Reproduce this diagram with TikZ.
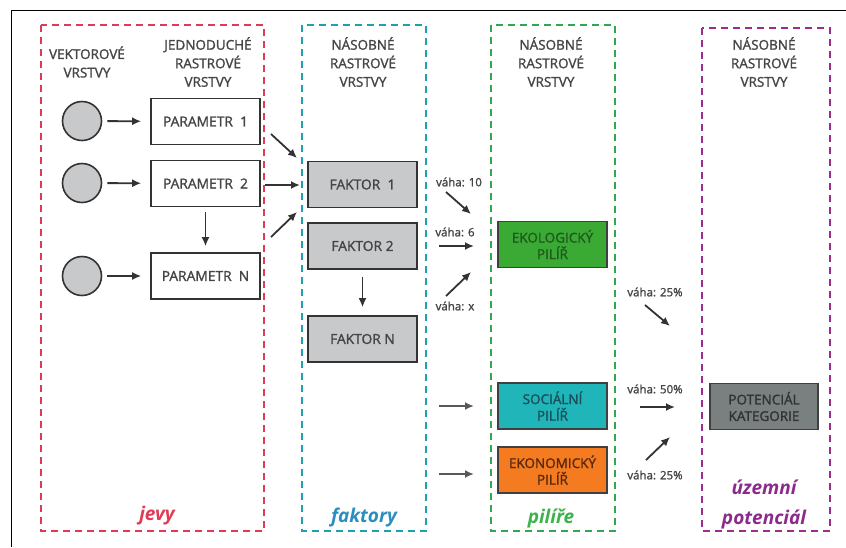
\documentclass[tikz,border=0pt]{standalone}
\usepackage{fontspec}
\setmainfont{Open Sans}
\newfontfamily\semib[FakeBold=1.5]{Open Sans}
\usetikzlibrary{arrows.meta}
\definecolor{cred}{HTML}{E23A55}
\definecolor{cteal}{HTML}{1AA3AC}
\definecolor{cgreen}{HTML}{2FA84F}
\definecolor{cpurple}{HTML}{9B2D8F}
\definecolor{tblue}{HTML}{2A8FC0}
\definecolor{tgreen}{HTML}{3CB34A}
\definecolor{tpurple}{HTML}{8B2A8B}
\definecolor{txt}{HTML}{454545}
\definecolor{boxgray}{HTML}{C8C9CB}
\definecolor{ekofill}{HTML}{3AAA35}
\definecolor{ekotext}{HTML}{1F5A1C}
\definecolor{socfill}{HTML}{20B5B8}
\definecolor{soctext}{HTML}{1B4F5A}
\definecolor{ecofill}{HTML}{F47B20}
\definecolor{ecotext}{HTML}{5A2A10}
\definecolor{potfill}{HTML}{7A7F80}
\definecolor{pottext}{HTML}{2F3335}
\tikzset{
  colbox/.style={line width=2.2pt, dash pattern=on 7pt off 5pt},
  head/.style={font=\semib\fontsize{13.5}{18.5}\selectfont, text=txt, align=center},
  lay/.style={draw=black!80, line width=1.6pt, fill=white, minimum width=109pt, minimum height=46pt, font=\semib\fontsize{13.8}{16.5}\selectfont, text=txt, align=center, inner sep=1pt},
  fak/.style={lay, fill=boxgray},
  pil/.style={lay, draw=black!75, font=\semib\fontsize{13.5}{16.5}\selectfont},
  vec/.style={circle, draw=black!80, line width=1.6pt, fill=boxgray, minimum size=39pt},
  arr/.style={-{Latex[length=9pt,width=8pt]}, line width=1.8pt, draw=black!80},
  wt/.style={font=\semib\fontsize{11.5}{12}\selectfont, text=txt},
  coltitle/.style={font=\bfseries\itshape\fontsize{19}{30}\selectfont, align=center}
}
\begin{document}
\begin{tikzpicture}[x=1pt,y=-1pt]
\useasboundingbox (0,0) rectangle (846,547);
% outer frame
\draw[line width=0.9pt, black] (11,547) -- (11,10) -- (846,10);
% column frames
\draw[colbox, cred] (41,25) rectangle (264,531);
\draw[colbox, cteal] (302,25) rectangle (426,531);
\draw[colbox, cgreen] (491,25) rectangle (615,531);
\draw[colbox, cpurple] (702,28) rectangle (830,531);
% headers
\node[head] (h1) at (87,62) {VEKTOROVÉ\\VRSTVY};
\node[head] (h2) at (208,62) {JEDNODUCHÉ\\RASTROVÉ\\VRSTVY};
\node[head] (h3) at (363,62) {NÁSOBNÉ\\RASTROVÉ\\VRSTVY};
\node[head] (h4) at (551,62) {NÁSOBNÉ\\RASTROVÉ\\VRSTVY};
\node[head] (h5) at (764,62) {NÁSOBNÉ\\RASTROVÉ\\VRSTVY};
% vector circles
\node[vec] (c1) at (82,121) {};
\node[vec] (c2) at (82,183) {};
\node[vec] (c3) at (82,276) {};
% parameters
\node[lay] (p1) at (205.5,121.5) {PARAMETR\ \ 1};
\node[lay] (p2) at (205.5,183.5) {PARAMETR\ \ 2};
\node[lay] (pn) at (205.5,276) {PARAMETR\ \ N};
\draw[arr, shorten <=5pt, shorten >=9pt] (c1) -- (p1);
\draw[arr, shorten <=5pt, shorten >=9pt] (c2) -- (p2);
\draw[arr, shorten <=5pt, shorten >=9pt] (c3) -- (pn);
\draw[arr, shorten <=5pt, shorten >=6pt] (p2) -- (pn);
% factors
\node[fak] (f1) at (362.5,184.5) {FAKTOR\ \ 1};
\node[fak] (f2) at (362.5,246) {FAKTOR 2};
\node[fak] (fn) at (362.5,339) {FAKTOR N};
\draw[arr, shorten <=7pt, shorten >=8pt] (f2) -- (fn);
\coordinate (a1s) at (271,134);
\coordinate (a1e) at (297,158);
\coordinate (a2s) at (265,185);
\coordinate (a2e) at (300,185);
\coordinate (a3s) at (271,237);
\coordinate (a3e) at (297,212);
\draw[arr] (a1s) -- (a1e);
\draw[arr] (a2s) -- (a2e);
\draw[arr] (a3s) -- (a3e);
% pillars
\node[pil, fill=ekofill, text=ekotext] (eko) at (552.5,244.5) {EKOLOGICKÝ\\PILÍŘ};
\node[pil, fill=socfill, text=soctext] (soc) at (552.5,406) {SOCIÁLNÍ\\PILÍŘ};
\node[pil, fill=ecofill, text=ecotext] (ecn) at (552.5,470) {EKONOMICKÝ\\PILÍŘ};
\node[wt] (w10) at (459,182) {váha: 10};
\node[wt] (w6) at (455,232) {váha: 6};
\node[wt] (wx) at (455,306) {váha: x};
\coordinate (b1s) at (446,192);
\coordinate (b1e) at (471,214);
\coordinate (b2s) at (439,246);
\coordinate (b2e) at (474,246);
\coordinate (b3s) at (446,296);
\coordinate (b3e) at (471,272);
\draw[arr] (b1s) -- (b1e);
\draw[arr] (b2s) -- (b2e);
\draw[arr] (b3s) -- (b3e);
\coordinate (s1s) at (439,406);
\coordinate (s1e) at (474,406);
\coordinate (s2s) at (439,474);
\coordinate (s2e) at (474,474);
\draw[arr, draw=black!65] (s1s) -- (s1e);
\draw[arr, draw=black!65] (s2s) -- (s2e);
% potential
\node[pil, fill=potfill, text=pottext, minimum width=108pt] (pot) at (764,406.5) {POTENCIÁL\\KATEGORIE};
\node[wt] (w25a) at (655,292) {váha: 25\%};
\node[wt] (w50) at (655,389) {váha: 50\%};
\node[wt] (w25b) at (655,475) {váha: 25\%};
\coordinate (d1s) at (645,305);
\coordinate (d1e) at (670,326);
\coordinate (d2s) at (640,407);
\coordinate (d2e) at (675,407);
\coordinate (d3s) at (646,460);
\coordinate (d3e) at (670,437);
\draw[arr] (d1s) -- (d1e);
\draw[arr] (d2s) -- (d2e);
\draw[arr] (d3s) -- (d3e);
% column titles
\node[coltitle, text=cred] (t1) at (157,516) {jevy};
\node[coltitle, text=tblue] (t2) at (364,518) {faktory};
\node[coltitle, text=tgreen] (t3) at (551,518) {pilíře};
\node[coltitle, text=tpurple] (t4) at (764,504) {územní\\potenciál};
\end{tikzpicture}
\end{document}
